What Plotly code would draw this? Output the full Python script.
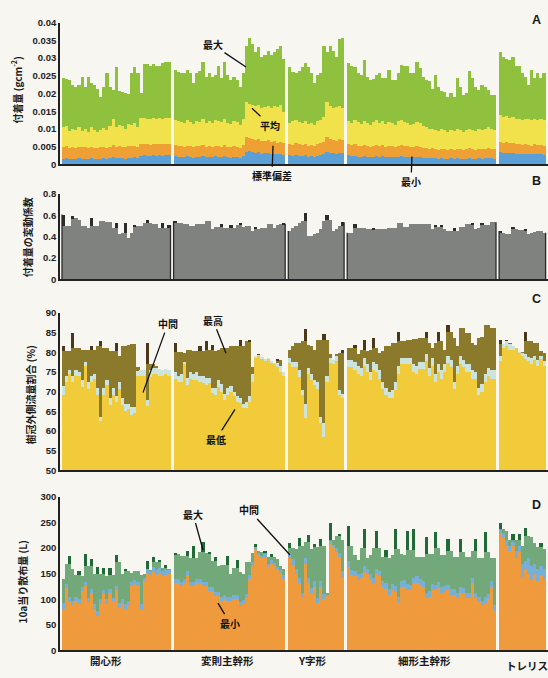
import plotly.graph_objects as go

# ---------------- data ----------------
groups = ["開心形", "変則主幹形", "Y字形", "細形主幹形", "トレリス"]
group_sizes = [35, 36, 18, 48, 15]

# Panel A : deposit amount (g cm^-2)
a_max = [0.0246, 0.0242, 0.0238, 0.0225, 0.022, 0.0225, 0.0248, 0.022, 0.0248, 0.023, 0.0225, 0.0215, 0.019, 0.022, 0.0258, 0.022, 0.021, 0.0276, 0.0207, 0.0205, 0.0202, 0.0199, 0.026, 0.0276, 0.026, 0.0201, 0.0285, 0.0285, 0.028, 0.0285, 0.0278, 0.028, 0.0288, 0.029, 0.029,
         0.0267, 0.0262, 0.026, 0.0258, 0.0267, 0.026, 0.023, 0.0258, 0.0264, 0.029, 0.0248, 0.0258, 0.0248, 0.0253, 0.028, 0.0244, 0.029, 0.0253, 0.024, 0.0248, 0.024, 0.022, 0.026, 0.0336, 0.0359, 0.0341, 0.0318, 0.0332, 0.0304, 0.031, 0.0322, 0.031, 0.0318, 0.0327, 0.0336, 0.0297,
         0.0276, 0.0262, 0.026, 0.0265, 0.0276, 0.0286, 0.0276, 0.0258, 0.023, 0.0253, 0.0258, 0.0336, 0.0318, 0.0334, 0.0322, 0.0305, 0.0356, 0.0358,
         0.0286, 0.028, 0.0275, 0.0258, 0.0253, 0.0295, 0.0248, 0.024, 0.0242, 0.0253, 0.0258, 0.0244, 0.0244, 0.0267, 0.024, 0.024, 0.0258, 0.0282, 0.028, 0.028, 0.0258, 0.0258, 0.029, 0.0274, 0.0248, 0.024, 0.0235, 0.0215, 0.0253, 0.022, 0.0207, 0.0205, 0.0192, 0.0202, 0.0192, 0.0244, 0.022, 0.0197, 0.0202, 0.0264, 0.0245, 0.022, 0.021, 0.0225, 0.022, 0.021, 0.0197, 0.0197,
         0.0318, 0.0304, 0.0299, 0.0295, 0.0304, 0.028, 0.028, 0.026, 0.0248, 0.0225, 0.0267, 0.0244, 0.0258, 0.0244, 0.0258]
a_mean = [0.0105, 0.0108, 0.0095, 0.0100, 0.0098, 0.0107, 0.0095, 0.0102, 0.0093, 0.0105, 0.0098, 0.0092, 0.0098, 0.0103, 0.0097, 0.0110, 0.0128, 0.0105, 0.0112, 0.0108, 0.0102, 0.0115, 0.0112, 0.0118, 0.0105, 0.0132, 0.0132, 0.0130, 0.0128, 0.0133, 0.0130, 0.0131, 0.0128, 0.0133, 0.0132,
          0.0125, 0.0122, 0.012, 0.0118, 0.0125, 0.012, 0.0115, 0.0122, 0.012, 0.0128, 0.0118, 0.0122, 0.0117, 0.0125, 0.0122, 0.012, 0.0128, 0.0118, 0.0115, 0.0122, 0.012, 0.0112, 0.013, 0.0178, 0.0172, 0.0168, 0.0165, 0.0168, 0.016, 0.0162, 0.0165, 0.016, 0.0165, 0.0162, 0.0168, 0.015,
          0.0118, 0.0122, 0.0125, 0.0120, 0.0118, 0.0122, 0.0115, 0.0118, 0.0112, 0.0122, 0.0125, 0.0135, 0.0178, 0.0165, 0.0160, 0.0162, 0.0165, 0.0160,
          0.0122, 0.0118, 0.0125, 0.0120, 0.0115, 0.0122, 0.0118, 0.0112, 0.0120, 0.0125, 0.0118, 0.0122, 0.0115, 0.0120, 0.0118, 0.0112, 0.0122, 0.0125, 0.0120, 0.0118, 0.0112, 0.0115, 0.0120, 0.0118, 0.0110, 0.0105, 0.0100, 0.0102, 0.0098, 0.0095, 0.0100, 0.0097, 0.0093, 0.0098, 0.0095, 0.0100, 0.0098, 0.0093, 0.0097, 0.0102, 0.0098, 0.0095, 0.0100, 0.0098, 0.0102, 0.0105, 0.0100, 0.0098,
          0.0140, 0.0135, 0.0138, 0.0132, 0.0135, 0.0130, 0.0128, 0.0125, 0.0130, 0.0128, 0.0125, 0.0130, 0.0127, 0.0128, 0.0125]
a_std = [0.0050, 0.0052, 0.0048, 0.0050, 0.0047, 0.0051, 0.0049, 0.0050, 0.0046, 0.0050, 0.0048, 0.0047, 0.0049, 0.0051, 0.0048, 0.0050, 0.0055, 0.0050, 0.0052, 0.0050, 0.0049, 0.0053, 0.0052, 0.0054, 0.0050, 0.0058, 0.0057, 0.0058, 0.0056, 0.0059, 0.0058, 0.0057, 0.0058, 0.0059, 0.0058,
         0.0055, 0.0053, 0.0052, 0.0050, 0.0054, 0.0052, 0.0049, 0.0053, 0.0052, 0.0056, 0.0051, 0.0053, 0.0050, 0.0054, 0.0052, 0.0051, 0.0055, 0.0050, 0.0049, 0.0052, 0.0051, 0.0048, 0.0056, 0.0078, 0.0076, 0.0072, 0.0070, 0.0072, 0.0066, 0.0068, 0.0070, 0.0064, 0.0066, 0.0062, 0.0065, 0.0060,
         0.0058, 0.0056, 0.0060, 0.0057, 0.0055, 0.0058, 0.0054, 0.0056, 0.0052, 0.0057, 0.0060, 0.0065, 0.0078, 0.0072, 0.0070, 0.0068, 0.0072, 0.0070,
         0.0058, 0.0055, 0.0057, 0.0054, 0.0052, 0.0056, 0.0054, 0.0050, 0.0053, 0.0056, 0.0053, 0.0055, 0.0051, 0.0054, 0.0052, 0.0050, 0.0054, 0.0056, 0.0053, 0.0052, 0.0049, 0.0051, 0.0053, 0.0051, 0.0048, 0.0046, 0.0045, 0.0046, 0.0044, 0.0042, 0.0045, 0.0043, 0.0041, 0.0044, 0.0042, 0.0045, 0.0043, 0.0041, 0.0043, 0.0046, 0.0043, 0.0042, 0.0044, 0.0043, 0.0045, 0.0046, 0.0044, 0.0043,
         0.0065, 0.0062, 0.0064, 0.0060, 0.0062, 0.0058, 0.0057, 0.0055, 0.0058, 0.0056, 0.0054, 0.0057, 0.0055, 0.0056, 0.0054]
a_min = [0.0016, 0.0018, 0.0015, 0.0017, 0.0016, 0.0018, 0.0016, 0.0017, 0.0015, 0.0018, 0.0016, 0.0015, 0.0017, 0.0018, 0.0016, 0.0018, 0.0021, 0.0018, 0.0019, 0.0018, 0.0017, 0.0020, 0.0019, 0.0021, 0.0018, 0.0025, 0.0026, 0.0025, 0.0024, 0.0026, 0.0025, 0.0026, 0.0025, 0.0027, 0.0026,
         0.0024, 0.0023, 0.0022, 0.0021, 0.0024, 0.0022, 0.0020, 0.0023, 0.0022, 0.0025, 0.0021, 0.0023, 0.0021, 0.0024, 0.0022, 0.0021, 0.0024, 0.0021, 0.0020, 0.0022, 0.0021, 0.0019, 0.0024, 0.0036, 0.0038, 0.0035, 0.0033, 0.0035, 0.0031, 0.0032, 0.0033, 0.0030, 0.0031, 0.0029, 0.0030, 0.0028,
         0.0026, 0.0025, 0.0027, 0.0025, 0.0024, 0.0026, 0.0023, 0.0025, 0.0022, 0.0025, 0.0027, 0.0029, 0.0036, 0.0033, 0.0032, 0.0031, 0.0034, 0.0033,
         0.0026, 0.0024, 0.0025, 0.0023, 0.0022, 0.0025, 0.0023, 0.0021, 0.0023, 0.0025, 0.0023, 0.0024, 0.0022, 0.0023, 0.0022, 0.0021, 0.0023, 0.0025, 0.0023, 0.0022, 0.0021, 0.0022, 0.0023, 0.0022, 0.0020, 0.0019, 0.0018, 0.0019, 0.0018, 0.0017, 0.0018, 0.0017, 0.0016, 0.0018, 0.0017, 0.0018, 0.0017, 0.0016, 0.0017, 0.0019, 0.0017, 0.0016, 0.0018, 0.0017, 0.0018, 0.0019, 0.0018, 0.0017,
         0.0035, 0.0033, 0.0034, 0.0032, 0.0033, 0.0031, 0.0030, 0.0029, 0.0031, 0.0030, 0.0029, 0.0030, 0.0029, 0.0030, 0.0028]

# Panel B : coefficient of variation
b_cv = [0.607, 0.5, 0.5, 0.592, 0.575, 0.561, 0.5, 0.5, 0.484, 0.576, 0.5, 0.5, 0.546, 0.546, 0.536, 0.536, 0.484, 0.53, 0.423, 0.438, 0.53, 0.392, 0.438, 0.506, 0.5, 0.5, 0.53, 0.561, 0.53, 0.524, 0.524, 0.484, 0.53, 0.484, 0.506,
        0.546, 0.53, 0.53, 0.515, 0.515, 0.5, 0.5, 0.515, 0.524, 0.524, 0.546, 0.546, 0.475, 0.494, 0.494, 0.515, 0.484, 0.484, 0.506, 0.484, 0.506, 0.53, 0.494, 0.5, 0.5, 0.453, 0.494, 0.475, 0.484, 0.484, 0.515, 0.515, 0.484, 0.506, 0.515, 0.52,
        0.453, 0.48, 0.5, 0.53, 0.546, 0.622, 0.407, 0.407, 0.423, 0.44, 0.469, 0.546, 0.607, 0.555, 0.453, 0.475, 0.5, 0.536,
        0.438, 0.438, 0.524, 0.484, 0.484, 0.484, 0.469, 0.469, 0.475, 0.469, 0.469, 0.475, 0.475, 0.484, 0.484, 0.484, 0.53, 0.53, 0.494, 0.494, 0.524, 0.524, 0.515, 0.515, 0.515, 0.515, 0.515, 0.469, 0.506, 0.494, 0.506, 0.475, 0.453, 0.453, 0.484, 0.453, 0.494, 0.494, 0.515, 0.515, 0.53, 0.475, 0.484, 0.53, 0.506, 0.506, 0.536, 0.536,
        0.453, 0.44, 0.423, 0.423, 0.494, 0.475, 0.463, 0.463, 0.475, 0.423, 0.432, 0.444, 0.453, 0.453, 0.438]

# Panel C : share of flow outside the canopy (%)
c_max = [81.5, 80.3, 80.3, 84.8, 81.1, 81.1, 80.5, 80.7, 80.7, 81.7, 80.7, 81.7, 82.8, 81.1, 81.1, 80.3, 80.3, 82.3, 79.2, 81.5, 81.5, 81.9, 82.1, 82.1, 76.2, 75.5, 75.5, 82.5, 77.0, 77.0, 76.5, 75.8, 75.5, 75.8, 75.5,
         82.3, 80.0, 80.0, 79.8, 80.7, 80.7, 80.3, 80.3, 81.5, 80.3, 82.8, 80.7, 81.9, 80.3, 80.7, 81.1, 81.1, 81.1, 81.5, 81.5, 81.7, 83.2, 81.5, 82.8, 83.0, 76.2, 79.2, 79.4, 78.8, 78.3, 78.6, 77.9, 77.4, 78.2, 78.0, 75.0,
         80.7, 81.5, 82.3, 82.3, 82.8, 86.0, 81.9, 81.5, 80.7, 83.2, 83.2, 84.7, 83.2, 79.5, 78.0, 79.5, 79.8, 80.7,
         81.1, 81.1, 81.9, 79.5, 80.7, 83.2, 80.3, 80.7, 83.6, 81.1, 79.9, 80.3, 81.7, 81.7, 82.3, 82.3, 85.2, 82.8, 82.8, 83.2, 83.2, 83.3, 83.3, 83.6, 83.6, 85.2, 82.3, 81.1, 82.3, 85.2, 82.8, 80.7, 86.9, 85.2, 83.6, 81.5, 86.1, 86.1, 84.8, 84.8, 82.3, 81.9, 83.6, 84.0, 86.9, 86.9, 86.1, 86.1,
         83.2, 82.0, 83.2, 82.5, 81.5, 81.1, 80.2, 80.0, 85.2, 83.0, 82.8, 82.3, 82.3, 80.3, 79.9]
c_mid = [71.5, 74.0, 75.5, 74.0, 75.5, 75.0, 73.0, 77.5, 72.5, 74.0, 74.5, 71.0, 63.5, 71.0, 73.0, 68.5, 71.0, 69.0, 72.5, 68.5, 67.0, 67.0, 66.0, 66.0, 75.2, 75.5, 75.5, 68.0, 75.5, 76.0, 76.0, 75.8, 75.5, 75.8, 75.5,
         75.0, 74.0, 74.5, 77.5, 73.5, 75.0, 74.5, 75.0, 74.0, 74.0, 73.5, 73.5, 71.0, 71.0, 73.0, 72.0, 69.5, 71.0, 71.5, 70.0, 69.0, 68.5, 67.0, 67.5, 69.0, 74.5, 79.0, 79.4, 78.8, 78.3, 78.6, 77.9, 77.4, 77.2, 76.5, 75.0,
         78.5, 77.5, 77.5, 75.5, 70.5, 67.0, 76.0, 74.5, 73.0, 72.5, 63.5, 62.0, 74.0, 78.5, 78.0, 79.0, 70.5, 69.5,
         78.0, 78.0, 77.5, 76.5, 76.0, 78.5, 77.0, 75.0, 77.5, 77.0, 75.5, 72.5, 71.0, 70.0, 70.5, 72.5, 76.5, 78.5, 78.5, 78.5, 78.5, 77.0, 76.5, 77.5, 77.5, 79.5, 76.0, 78.5, 74.5, 77.0, 75.5, 77.0, 79.0, 78.0, 72.5, 76.5, 79.0, 78.0, 77.0, 77.0, 75.5, 75.0, 71.0, 72.0, 74.5, 76.0, 75.5, 75.5,
         79.0, 82.0, 83.0, 82.0, 81.5, 81.1, 80.1, 79.8, 79.5, 78.8, 78.5, 79.0, 78.0, 79.2, 77.8]
c_min = [69.2, 72.5, 74.5, 72.5, 74.1, 74.1, 71.2, 76.5, 70.8, 72.5, 73.3, 69.2, 62.6, 69.2, 71.6, 66.7, 69.2, 67.5, 70.8, 66.7, 65.0, 65.5, 64.2, 64.5, 74.1, 74.1, 74.1, 66.3, 73.7, 74.5, 74.5, 74.1, 74.1, 74.5, 74.1,
         73.3, 72.5, 72.5, 77.0, 71.6, 73.3, 72.9, 72.9, 72.5, 72.1, 71.6, 72.3, 69.6, 69.2, 71.2, 70.0, 67.9, 69.2, 70.0, 68.8, 67.5, 67.1, 65.9, 65.9, 67.5, 72.5, 78.6, 79.0, 78.2, 77.8, 78.2, 77.4, 77.0, 76.2, 75.0, 74.0,
         77.4, 76.2, 76.2, 73.7, 69.2, 63.4, 74.5, 73.0, 71.6, 70.8, 62.0, 58.5, 72.5, 77.4, 77.0, 77.8, 69.2, 68.4,
         76.2, 76.2, 75.4, 74.5, 74.1, 76.6, 75.0, 72.9, 75.4, 75.0, 73.3, 70.8, 69.2, 68.4, 68.4, 70.4, 74.5, 77.0, 77.0, 77.0, 77.0, 75.0, 74.5, 75.8, 75.8, 77.8, 74.1, 76.6, 72.5, 75.0, 73.3, 75.0, 77.4, 76.2, 70.8, 74.5, 77.0, 76.2, 75.0, 75.0, 73.3, 73.3, 69.2, 70.0, 72.5, 74.1, 73.3, 73.3,
         77.8, 81.0, 81.5, 80.5, 80.5, 81.0, 79.9, 79.0, 78.2, 77.8, 77.0, 78.0, 76.6, 78.2, 76.6]

# Panel D : spray volume per 10a (L)
d_max = [140, 170, 185, 160, 148, 155, 145, 188, 165, 178, 150, 163, 150, 162, 145, 162, 148, 187, 172, 150, 160, 155, 152, 155, 155, 148, 150, 175, 158, 182, 172, 176, 162, 167, 160,
         190, 188, 185, 185, 195, 180, 205, 180, 192, 212, 190, 192, 175, 182, 165, 168, 168, 185, 150, 162, 176, 153, 150, 172, 172, 190, 208, 195, 192, 195, 182, 188, 182, 178, 165, 160,
         211, 200, 198, 220, 205, 212, 226, 198, 208, 202, 218, 205, 112, 250, 215, 224, 228, 215,
         244, 205, 186, 176, 200, 237, 180, 186, 200, 234, 200, 183, 196, 180, 186, 237, 198, 189, 186, 234, 196, 237, 183, 183, 182, 221, 189, 189, 231, 200, 186, 186, 218, 195, 183, 183, 218, 192, 183, 183, 195, 218, 180, 180, 231, 192, 180, 180,
         250, 237, 234, 215, 227, 215, 227, 205, 240, 224, 221, 211, 202, 211, 198]
d_mid = [92, 130, 104, 96, 105, 100, 125, 133, 103, 120, 90, 78, 100, 118, 100, 121, 103, 127, 93, 100, 90, 97, 134, 137, 134, 90, 142, 160, 155, 163, 158, 162, 155, 158, 157,
         140, 140, 134, 140, 155, 134, 134, 140, 140, 134, 134, 124, 124, 115, 115, 105, 108, 105, 105, 108, 108, 95, 99, 111, 148, 172, 202, 190, 185, 188, 170, 176, 171, 164, 158, 148,
         190, 178, 160, 142, 112, 180, 142, 122, 135, 102, 135, 110, 109, 214, 207, 200, 190, 155,
         175, 158, 156, 150, 152, 165, 160, 150, 142, 160, 156, 136, 132, 120, 130, 126, 104, 136, 137, 130, 128, 142, 145, 140, 136, 112, 116, 130, 128, 133, 124, 126, 128, 120, 120, 112, 124, 122, 112, 112, 142, 112, 105, 96, 104, 110, 135, 88,
         235, 230, 215, 205, 212, 195, 205, 170, 175, 180, 165, 170, 160, 165, 160]
d_min = [81, 123, 94, 88, 97, 91, 116, 126, 94, 113, 81, 68, 91, 110, 91, 113, 94, 119, 84, 91, 81, 88, 126, 129, 126, 81, 135, 151, 148, 154, 148, 151, 145, 148, 150,
         132, 132, 126, 132, 148, 126, 126, 132, 132, 126, 126, 116, 116, 107, 107, 97, 100, 97, 97, 100, 100, 87, 91, 103, 140, 165, 198, 186, 180, 183, 164, 170, 165, 158, 151, 140,
         180, 167, 150, 131, 103, 170, 131, 112, 125, 93, 125, 100, 106, 208, 202, 192, 180, 144,
         163, 147, 145, 138, 141, 154, 150, 138, 130, 150, 145, 125, 120, 109, 118, 115, 93, 125, 125, 118, 118, 132, 132, 128, 125, 102, 105, 118, 118, 122, 112, 115, 118, 109, 109, 102, 112, 112, 102, 102, 132, 102, 95, 87, 93, 100, 125, 77,
         227, 221, 205, 195, 205, 180, 193, 144, 157, 150, 138, 150, 135, 148, 138]

a_ticks = [0, 0.005, 0.01, 0.015, 0.02, 0.025, 0.03, 0.035, 0.04]
a_ticktext = ["0", "0.005", "0.01", "0.015", "0.02", "0.025", "0.03", "0.035", "0.04"]
b_ticks = [0, 0.2, 0.4, 0.6, 0.8]
b_ticktext = ["0", "0.2", "0.4", "0.6", "0.8"]
c_ticks = [50, 55, 60, 65, 70, 75, 80, 85, 90]
d_ticks = [0, 50, 100, 150, 200, 250, 300]

N = sum(group_sizes)
for s in (a_max, a_mean, a_std, a_min, b_cv, c_max, c_mid, c_min, d_max, d_mid, d_min):
    assert len(s) == N, len(s)

# ---------------- layout helpers ----------------
W, H, ML = 548, 678, 60
PW = W - ML


def px(x):
    return (x - ML) / PW


def py(y):
    return (H - y) / H


xs = []
first_last = []
off = 0
for n in group_sizes:
    xs.extend(range(off, off + n))
    first_last.append((off, off + n - 1))
    off += n + 1
slot_px = 3.1
x_left = -0.5 - 2.0 / slot_px
x_range = [x_left, x_left + PW / slot_px]


def tips(vals):
    """dark tip of each bar that rises above both neighbours (within its group)"""
    base, height = [], []
    i0 = 0
    for n in group_sizes:
        seg = vals[i0:i0 + n]
        for k, v in enumerate(seg):
            nb = []
            if k > 0:
                nb.append(seg[k - 1])
            if k < n - 1:
                nb.append(seg[k + 1])
            hi = max(nb)
            b = hi if v > hi else v
            base.append(b)
            height.append(v - b)
        i0 += n
    return base, height


fig = go.Figure()
BW = 1.04


def bars(vals, color, xa, ya, base=None):
    fig.add_trace(go.Bar(x=xs, y=vals, base=base, width=BW, marker=dict(color=color, line=dict(width=0)),
                         xaxis=xa, yaxis=ya, showlegend=False, hoverinfo="skip"))


# Panel A
bars(a_max, "#8fc13e", "x", "y")
bars(a_mean, "#f1e24c", "x", "y")
bars(a_std, "#efa035", "x", "y")
bars(a_min, "#5a9fd6", "x", "y")

# Panel B
bars(b_cv, "#808280", "x2", "y2")
tb, th = tips(b_cv)
bars(th, "#2c2c2c", "x2", "y2", base=tb)
ex, ey = [], []
for (f, l) in first_last:
    for idx, side in ((f, -0.5), (l, 0.5)):
        j = xs.index(idx)
        ex += [idx + side, idx + side, None]
        ey += [0, b_cv[j], None]
fig.add_trace(go.Scatter(x=ex, y=ey, mode="lines", line=dict(color="#2a2a2a", width=1.3),
                         xaxis="x2", yaxis="y2", showlegend=False, hoverinfo="skip"))

# Panel C
bars(c_max, "#8c7a2c", "x3", "y3")
tb, th = tips(c_max)
bars(th, "#4b3719", "x3", "y3", base=tb)
bars(c_mid, "#cde3de", "x3", "y3")
bars(c_min, "#f2cb3b", "x3", "y3")

# Panel D
bars(d_max, "#73a87b", "x4", "y4")
tb, th = tips(d_max)
bars(th, "#1f6a37", "x4", "y4", base=tb)
bars(d_mid, "#78afd8", "x4", "y4")
bars(d_min, "#ef9a3d", "x4", "y4")

tickfont = dict(family="Liberation Sans, Arial", size=9.5, color="#222", weight="bold")
panels = [
    ("", "", [17, 161], [0, 0.04], a_ticks, a_ticktext),
    ("2", "2", [191, 278], [0, 0.8], b_ticks, b_ticktext),
    ("3", "3", [312, 472], [50, 90], c_ticks, [str(v) for v in c_ticks]),
    ("4", "4", [499, 655], [0, 300], d_ticks, [str(v) for v in d_ticks]),
]
lay = {}
for xi, yi, (ytop, ybot), yr, tv, tt in panels:
    lay["xaxis" + xi] = dict(domain=[0, 1], range=x_range, anchor="y" + yi, showline=True,
                             linecolor="#222", linewidth=1.6, showticklabels=False, ticks="",
                             showgrid=False, zeroline=False, fixedrange=True)
    lay["yaxis" + yi] = dict(domain=[py(ybot), py(ytop)], range=yr, anchor="x" + xi, showline=True,
                             linecolor="#222", linewidth=1.6, tickvals=tv, ticktext=tt, ticks="",
                             showgrid=False, zeroline=False, tickfont=tickfont, fixedrange=True)

bg = "#f7f6f1"
fig.update_layout(width=W, height=H, autosize=False, margin=dict(l=ML, r=0, t=0, b=0),
                  paper_bgcolor=bg, plot_bgcolor=bg, barmode="overlay", bargap=0, **lay)

jp = "Noto Sans CJK JP"
ann = []


def label(text, x, y, size=10.5, angle=0, family=jp):
    ann.append(dict(text=text, x=px(x), y=py(y), xref="paper", yref="paper", showarrow=False,
                    textangle=angle, font=dict(family=family, size=size, color="#1a1a1a", weight="bold"),
                    xanchor="center", yanchor="middle"))


def pointer(text, tx, ty, ex_, ey_):
    ann.append(dict(text=text, x=px(ex_), y=py(ey_), xref="paper", yref="paper", showarrow=True,
                    arrowhead=0, arrowwidth=1.3, arrowcolor="#111", ax=tx - ex_, ay=ty - ey_,
                    standoff=0, font=dict(family=jp, size=10, color="#111", weight="bold")))


# panel letters
for t, y in (("A", 14), ("B", 178), ("C", 298), ("D", 507)):
    label(t, 536, y, size=12.5, family="Liberation Sans, Arial")

# axis titles
label("付着量 (gcm<sup>-2</sup>)", 17, 86, size=10, angle=-90)
label("付着量の変動係数", 27, 235, size=10, angle=-90)
label("樹冠外側流量割合 (%)", 31, 396, size=10, angle=-90)
label("10a当り散布量 (L)", 22, 586, size=10, angle=-90)

# group names
for g, x, y in zip(groups, [106, 227, 312, 424, 527], [665, 665, 665, 665, 670]):
    label(g, x, y, size=10.5)

# leader annotations
pointer("最大", 213, 40, 246, 62)
pointer("平均", 270, 121, 252, 104)
pointer("標準偏差", 272, 172, 273, 142)
pointer("最小", 411, 178, 412, 153)
pointer("中間", 168, 324, 143, 393)
pointer("最高", 213, 320, 226, 353)
pointer("最低", 216, 440, 235, 410)
pointer("最大", 193, 517, 203, 553)
pointer("中間", 249, 513, 290, 558)
pointer("最小", 230, 627, 218, 607)

fig.update_layout(annotations=ann)
fig.write_html("out.html", config={"displayModeBar": False},
               post_script="document.body.style.margin='0';")
